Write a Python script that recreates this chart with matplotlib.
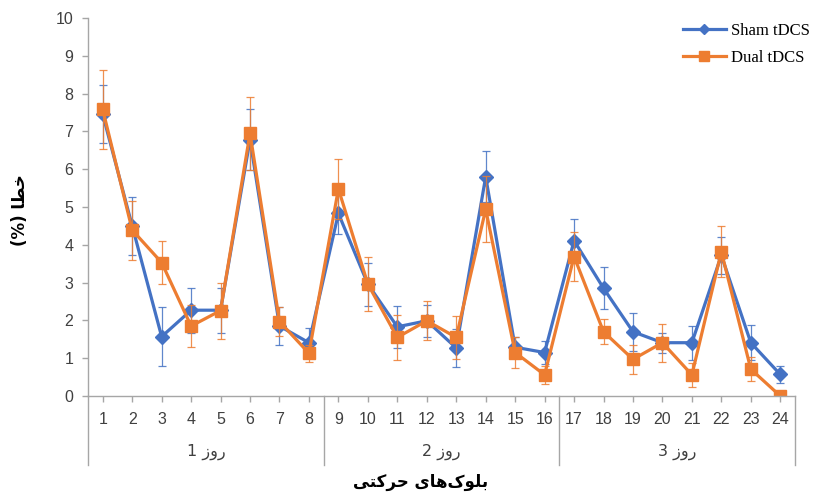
"""Error rate per motor block for Sham vs Dual tDCS across three days (Excel-style line chart)."""

import re

import matplotlib

matplotlib.use("Agg")
import matplotlib.pyplot as plt

BLOCKS = [1, 2, 3, 4, 5, 6, 7, 8, 9, 10, 11, 12, 13, 14, 15, 16, 17, 18, 19, 20, 21, 22, 23, 24]
DAYS = ["روز 1", "روز 2", "روز 3"]
BLOCKS_PER_DAY = 8

SHAM = [7.45, 4.5, 1.57, 2.27, 2.27, 6.78, 1.85, 1.41, 4.83, 2.96, 1.83, 1.99,
        1.27, 5.8, 1.29, 1.15, 4.11, 2.85, 1.7, 1.41, 1.41, 3.72, 1.41, 0.57]
SHAM_ERR = [0.77, 0.77, 0.78, 0.6, 0.6, 0.8, 0.5, 0.4, 0.55, 0.57, 0.56, 0.43,
            0.5, 0.67, 0.28, 0.3, 0.56, 0.55, 0.5, 0.26, 0.45, 0.48, 0.46, 0.23]
DUAL = [7.58, 4.39, 3.53, 1.85, 2.26, 6.95, 1.97, 1.13, 5.48, 2.96, 1.55, 1.99,
        1.55, 4.94, 1.15, 0.56, 3.69, 1.7, 0.97, 1.41, 0.56, 3.82, 0.71, 0.0]
DUAL_ERR = [1.05, 0.78, 0.56, 0.55, 0.74, 0.97, 0.38, 0.22, 0.8, 0.72, 0.6, 0.52,
            0.56, 0.87, 0.4, 0.24, 0.64, 0.33, 0.38, 0.5, 0.32, 0.67, 0.32, 0.0]

Y_LABEL = "خطا (%)"
X_LABEL = "بلوک\u200cهای حرکتی"

BLUE = "#4472C4"
ORANGE = "#ED7D31"
AXIS_GREY = "#A6A6A6"
TEXT = "#404040"

# matplotlib has no Arabic shaping, so map to presentation forms by hand
# (isolated, final, initial, medial); None = letter never joins to the next one
FORMS = {
    "ا": ("\uFE8D", "\uFE8E", None, None),
    "ب": ("\uFE8F", "\uFE90", "\uFE91", "\uFE92"),
    "ت": ("\uFE95", "\uFE96", "\uFE97", "\uFE98"),
    "ح": ("\uFEA1", "\uFEA2", "\uFEA3", "\uFEA4"),
    "خ": ("\uFEA5", "\uFEA6", "\uFEA7", "\uFEA8"),
    "ر": ("\uFEAD", "\uFEAE", None, None),
    "ز": ("\uFEAF", "\uFEB0", None, None),
    "ط": ("\uFEC1", "\uFEC2", "\uFEC3", "\uFEC4"),
    "ل": ("\uFEDD", "\uFEDE", "\uFEDF", "\uFEE0"),
    "ه": ("\uFEE9", "\uFEEA", "\uFEEB", "\uFEEC"),
    "و": ("\uFEED", "\uFEEE", None, None),
    "ک": ("\uFB8E", "\uFB8F", "\uFB90", "\uFB91"),
    "ی": ("\uFBFC", "\uFBFD", "\uFBFE", "\uFBFF"),
}
MIRROR = {"(": ")", ")": "("}


def rtl(text: str) -> str:
    """Shape Persian text and return it in visual (left-to-right) order."""
    out = []
    for i, c in enumerate(text):
        if c not in FORMS:
            out.append(c)
            continue
        prev = text[i - 1] if i > 0 else ""
        nxt = text[i + 1] if i + 1 < len(text) else ""
        join_prev = prev in FORMS and FORMS[prev][2] is not None
        join_next = FORMS[c][2] is not None and nxt in FORMS
        iso, fin, ini, med = FORMS[c]
        out.append(med if join_prev and join_next else fin if join_prev else ini if join_next else iso)
    visual = "".join(MIRROR.get(c, c) for c in reversed(out) if c != "\u200c")
    return re.sub(r"\d+", lambda m: m.group(0)[::-1], visual)


fig = plt.figure(figsize=(8.17, 4.94), dpi=100)
ax = fig.add_axes([88 / 817, 1 - 396 / 494, 707 / 817, 378 / 494])

bars = dict(fmt="none", capsize=2.6, elinewidth=0.9, capthick=0.9, alpha=0.85)
ax.errorbar(BLOCKS, SHAM, yerr=SHAM_ERR, ecolor=BLUE, **bars)
ax.plot(BLOCKS, SHAM, color=BLUE, lw=2.3, marker="D", markersize=7, label="Sham tDCS")
ax.errorbar(BLOCKS, DUAL, yerr=DUAL_ERR, ecolor=ORANGE, **bars)
ax.plot(BLOCKS, DUAL, color=ORANGE, lw=2.3, marker="s", markersize=9, label="Dual tDCS")

ax.set_xlim(0.5, 24.5)
ax.set_ylim(0, 10)
ax.set_yticks(range(0, 11))
ax.set_xticks(BLOCKS)
ax.set_xticklabels([str(b) for b in BLOCKS])
for side in ("top", "right"):
    ax.spines[side].set_visible(False)
for side in ("left", "bottom"):
    ax.spines[side].set_color(AXIS_GREY)
    ax.spines[side].set_linewidth(1.0)
ax.tick_params(axis="both", colors=AXIS_GREY, labelcolor=TEXT, labelsize=11.5, width=1.0)
ax.tick_params(axis="y", length=4.5, pad=6)
ax.tick_params(axis="x", length=4.5, pad=7)
for lab in ax.get_xticklabels() + ax.get_yticklabels():
    lab.set_family("Liberation Sans")

# multi-level category axis: day groups underneath the block numbers
trans = ax.get_xaxis_transform()
for k in range(len(DAYS) + 1):
    edge = 0.5 + k * BLOCKS_PER_DAY
    ax.plot([edge, edge], [0, -0.183], transform=trans, color=AXIS_GREY, lw=1.0, clip_on=False)
for k, day in enumerate(DAYS):
    mid = 0.5 + (k + 0.5) * BLOCKS_PER_DAY
    ax.text(mid, -0.148, rtl(day), transform=trans, ha="center", va="center",
            fontsize=11.5, color=TEXT, family="DejaVu Sans")

fig.text(421 / 817, 1 - 482 / 494, rtl(X_LABEL), ha="center", va="center",
         fontsize=12, fontweight="bold", family="DejaVu Sans")
fig.text(20 / 817, 1 - 210 / 494, rtl(Y_LABEL), ha="center", va="center", rotation=90,
         fontsize=12, fontweight="bold", family="DejaVu Sans")

ax.legend(loc="upper right", bbox_to_anchor=(825 / 817, 1 - 8 / 494), bbox_transform=fig.transFigure,
          frameon=False, prop={"family": "Liberation Serif", "size": 12},
          handlelength=2.6, handletextpad=0.3, labelspacing=0.65, markerscale=0.8)

fig.savefig("out.png", dpi=100)
